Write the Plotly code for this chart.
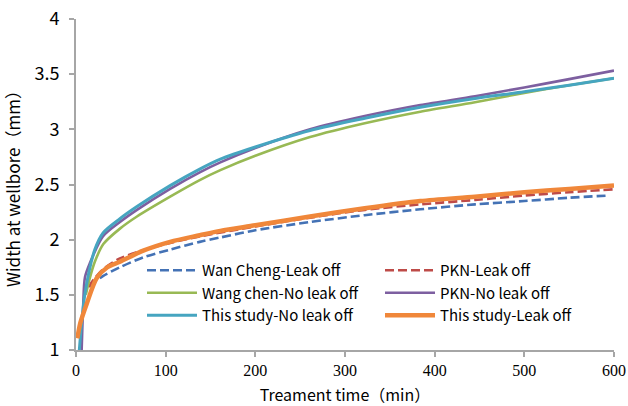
import plotly.graph_objects as go

# Fracture width at the wellbore versus treatment time (min -> mm)
wan_t = [16, 20, 30, 49, 75, 105, 138, 161, 200, 261, 322, 384, 445, 500, 550, 594]
wan_w = [1.57, 1.61, 1.67, 1.75, 1.84, 1.91, 1.98, 2.02, 2.085, 2.16, 2.222, 2.275, 2.32, 2.35, 2.38, 2.40]

pkn_leak_t = [14, 20, 30, 49, 82, 105, 138, 200, 261, 322, 384, 445, 500, 550, 600]
pkn_leak_w = [1.57, 1.64, 1.73, 1.83, 1.92, 1.97, 2.03, 2.12, 2.20, 2.27, 2.32, 2.36, 2.40, 2.43, 2.457]

wang_t = [11, 15, 21, 30.5, 49, 68, 105, 138, 161, 200, 261, 322, 384, 445, 500, 550, 600]
wang_w = [1.5, 1.64, 1.80, 1.96, 2.10, 2.21, 2.39, 2.54, 2.63, 2.76, 2.93, 3.055, 3.16, 3.245, 3.33, 3.40, 3.463]

pkn_noleak_t = [6.3, 8, 10, 15.6, 30, 49, 68, 105, 138, 161, 200, 261, 322, 384, 445, 500, 550, 600]
pkn_noleak_w = [1.0, 1.4, 1.66, 1.79, 2.03, 2.16, 2.27, 2.46, 2.61, 2.70, 2.83, 3.00, 3.12, 3.22, 3.30, 3.38, 3.455, 3.532]

study_noleak_t = [3.7, 10, 21, 30, 49, 68, 105, 138, 161, 200, 261, 322, 384, 445, 500, 550, 600]
study_noleak_w = [1.0, 1.51, 1.91, 2.06, 2.19, 2.30, 2.49, 2.64, 2.73, 2.84, 2.99, 3.10, 3.20, 3.28, 3.34, 3.40, 3.463]

study_leak_t = [1.5, 5, 12, 23, 35, 49, 75, 105, 138, 161, 200, 261, 322, 384, 445, 500, 550, 600]
study_leak_w = [1.106, 1.25, 1.42, 1.65, 1.75, 1.80, 1.90, 1.98, 2.04, 2.08, 2.13, 2.21, 2.284, 2.35, 2.39, 2.43, 2.46, 2.49]

x_ticks = [0, 100, 200, 300, 400, 500, 600]
y_ticks = [1, 1.5, 2, 2.5, 3, 3.5, 4]

# name, x, y, colour, width, dash, legend column
series = [
    ("Wan Cheng-Leak off", wan_t, wan_w, "#4472B5", 2.6, "9px,4px", "legend"),
    ("PKN-Leak off", pkn_leak_t, pkn_leak_w, "#BE4B48", 2.6, "9px,4px", "legend2"),
    ("Wang chen-No leak off", wang_t, wang_w, "#98B954", 2.6, "solid", "legend"),
    ("PKN-No leak off", pkn_noleak_t, pkn_noleak_w, "#7D5FA0", 2.6, "solid", "legend2"),
    ("This study-No leak off", study_noleak_t, study_noleak_w, "#46A5C0", 3.0, "solid", "legend"),
    ("This study-Leak off", study_leak_t, study_leak_w, "#F0873A", 4.5, "solid", "legend2"),
]

fig = go.Figure()
for name, t, w, color, lw, dash, leg in series:
    fig.add_trace(go.Scatter(
        x=t, y=w, mode="lines", name=name, legend=leg,
        line=dict(color=color, width=lw, dash=dash, shape="spline", smoothing=0.8),
    ))

axis_color = "#A6A6A6"
sans = "Noto Sans CJK SC"

plot_l, plot_r, plot_t, plot_b = 76, 614, 19, 350
pw, ph = plot_r - plot_l, plot_b - plot_t


def legend_box(x_px, y_px):
    return dict(
        orientation="v",
        x=(x_px - plot_l) / pw, y=(plot_b - y_px) / ph,
        xanchor="left", yanchor="top",
        itemwidth=50, tracegroupgap=0,
        font=dict(family=sans, size=15, color="black"),
        bgcolor="rgba(0,0,0,0)",
    )


fig.update_layout(
    width=628, height=406,
    margin=dict(l=plot_l, r=628 - plot_r, t=plot_t, b=406 - plot_b, autoexpand=False),
    paper_bgcolor="white", plot_bgcolor="white",
    font=dict(family=sans, size=15, color="black"),
    showlegend=True,
    legend=legend_box(142, 254),
    legend2=legend_box(380, 254),
    xaxis=dict(
        range=[0, 600], tickvals=x_ticks, ticktext=[str(v) for v in x_ticks],
        showgrid=False, zeroline=False, showline=True, linecolor=axis_color, linewidth=2,
        ticks="outside", ticklen=5, tickcolor=axis_color, tickwidth=2,
        tickfont=dict(family="Liberation Serif", size=16, color="black"),
        title=dict(text="Treament time（min）", font=dict(family=sans, size=16)),
        automargin=False,
    ),
    yaxis=dict(
        range=[1, 4], tickvals=y_ticks, ticktext=["1", "1.5", "2", "2.5", "3", "3.5", "4"],
        showgrid=False, zeroline=False, showline=True, linecolor=axis_color, linewidth=2,
        ticks="outside", ticklen=5, tickcolor=axis_color, tickwidth=2,
        ticklabelstandoff=6,
        tickfont=dict(family=sans, size=18, color="black"),
        title=dict(text="Width at wellbore（mm）", font=dict(family=sans, size=17)),
        automargin=False,
    ),
)

fig.write_html("out.html")
